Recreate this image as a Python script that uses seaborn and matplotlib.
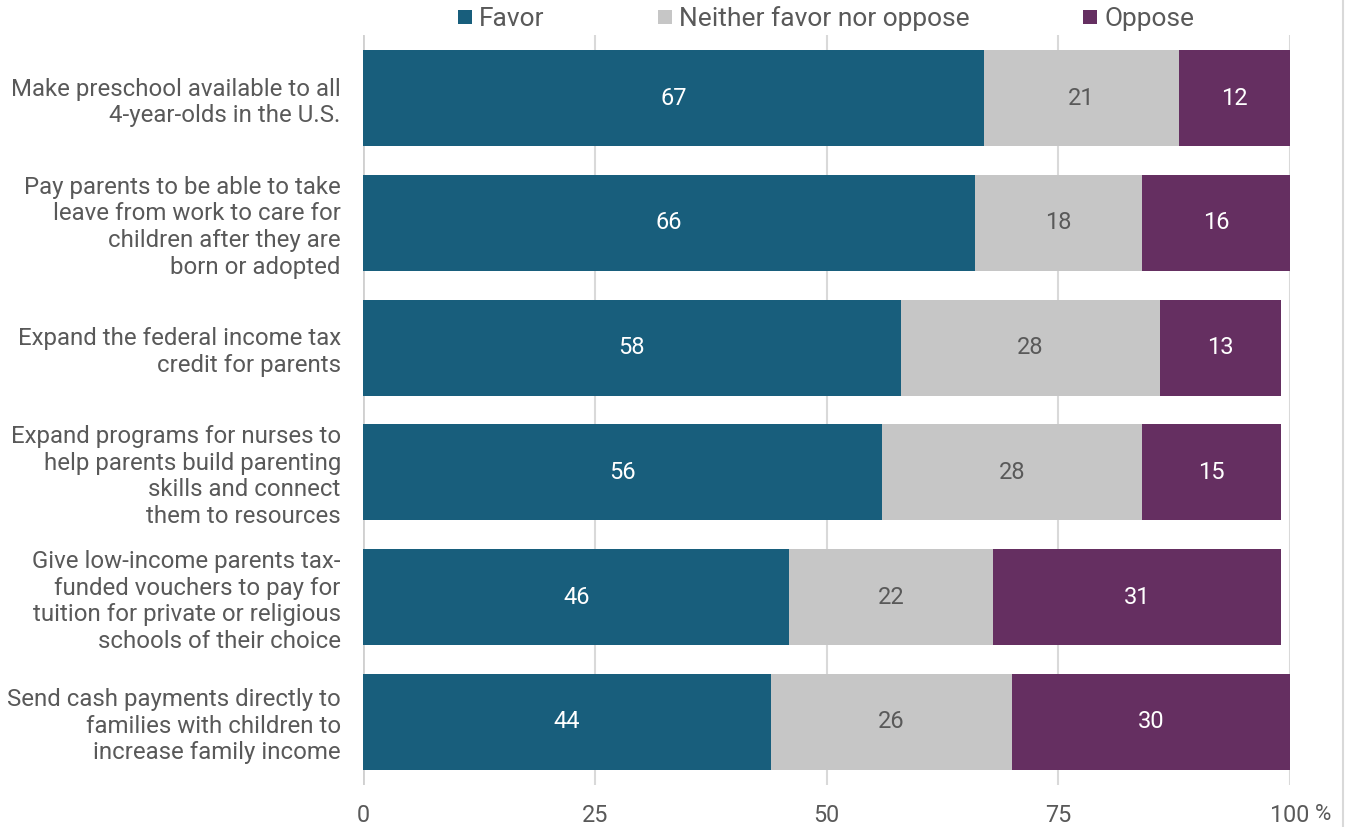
import matplotlib
matplotlib.use("Agg")
import matplotlib.pyplot as plt
import seaborn as sns
import pandas as pd
import numpy as np
from matplotlib.lines import Line2D

categories = [
    "Make preschool available to all\n4-year-olds in the U.S.",
    "Pay parents to be able to take\nleave from work to care for\nchildren after they are\nborn or adopted",
    "Expand the federal income tax\ncredit for parents",
    "Expand programs for nurses to\nhelp parents build parenting\nskills and connect\nthem to resources",
    "Give low-income parents tax-\nfunded vouchers to pay for\ntuition for private or religious\nschools of their choice",
    "Send cash payments directly to\nfamilies with children to\nincrease family income",
]
favor = [67, 66, 58, 56, 46, 44]
neither = [21, 18, 28, 28, 22, 26]
oppose = [12, 16, 13, 15, 31, 30]
series_names = ["Favor", "Neither favor nor oppose", "Oppose"]
tick_values = [0, 25, 50, 75, 100]
tick_labels = ["0", "25", "50", "75", "100"]

colors = {"Favor": "#185E7C", "Neither favor nor oppose": "#C6C6C6", "Oppose": "#652F61"}
label_colors = {"Favor": "white", "Neither favor nor oppose": "#595959", "Oppose": "white"}
TEXT = "#595959"

sns.set_theme(style="white")
plt.rcParams["font.family"] = ["Roboto", "DejaVu Sans"]

fig = plt.figure(figsize=(13.5, 8.27), dpi=100)
ax = fig.add_axes([363 / 1350, 1 - 785 / 827, (1290 - 363) / 1350, 750 / 827])

df = pd.DataFrame({"cat": categories, "Favor": favor,
                   "Neither favor nor oppose": neither, "Oppose": oppose})
df["c1"] = df["Favor"]
df["c2"] = df["Favor"] + df["Neither favor nor oppose"]
df["c3"] = df["c2"] + df["Oppose"]

for col, name in [("c3", "Oppose"), ("c2", "Neither favor nor oppose"), ("c1", "Favor")]:
    sns.barplot(data=df, x=col, y="cat", orient="h", color=colors[name],
                width=0.77, ax=ax, linewidth=0, saturation=1, zorder=3)

# labels
for i, row in df.iterrows():
    starts = [0, row["c1"], row["c2"]]
    vals = [row["Favor"], row["Neither favor nor oppose"], row["Oppose"]]
    for s, v, name in zip(starts, vals, series_names):
        ax.text(s + v / 2, i, f"{v}", ha="center", va="center",
                color=label_colors[name], fontsize=17, zorder=5)

ax.set_xlim(0, 100)
ax.set_ylim(5.505, -0.505)
ax.set_xlabel("")
ax.set_ylabel("")
ax.set_xticks(tick_values)
ax.set_xticklabels(tick_labels)
ax.xaxis.grid(True, color="#D9D9D9", linewidth=1.5, zorder=0)
ax.axvline(0, color="#D0D0D0", linewidth=2, zorder=1)
for sp in ax.spines.values():
    sp.set_visible(False)
ax.tick_params(axis="x", length=0, pad=14, labelsize=16.8, labelcolor=TEXT)
ax.tick_params(axis="y", length=0, pad=16, labelsize=17.3, labelcolor=TEXT)
for t in ax.get_yticklabels():
    t.set_horizontalalignment("right")
    t.set_multialignment("right")

# percent sign after 100
ax.annotate("%", xy=(100, 0), xycoords=("data", "axes fraction"),
            xytext=(18, -14), textcoords="offset points", ha="left", va="top",
            fontsize=16, color=TEXT)

handles = [Line2D([0], [0], marker="s", linestyle="", markersize=10.5,
                  markerfacecolor=colors[n], markeredgewidth=0) for n in series_names]
fig.legend(handles, series_names, loc="center", bbox_to_anchor=(826 / 1350, 1 - 19 / 827),
           ncol=3, frameon=False, fontsize=19, labelcolor=TEXT, handlelength=0.55,
           handletextpad=0.25, columnspacing=4.3, borderaxespad=0)

fig.add_artist(Line2D([1343 / 1350, 1343 / 1350], [0, 1], color="#D9D9D9", linewidth=1.5))

fig.savefig("out.png", dpi=100)
